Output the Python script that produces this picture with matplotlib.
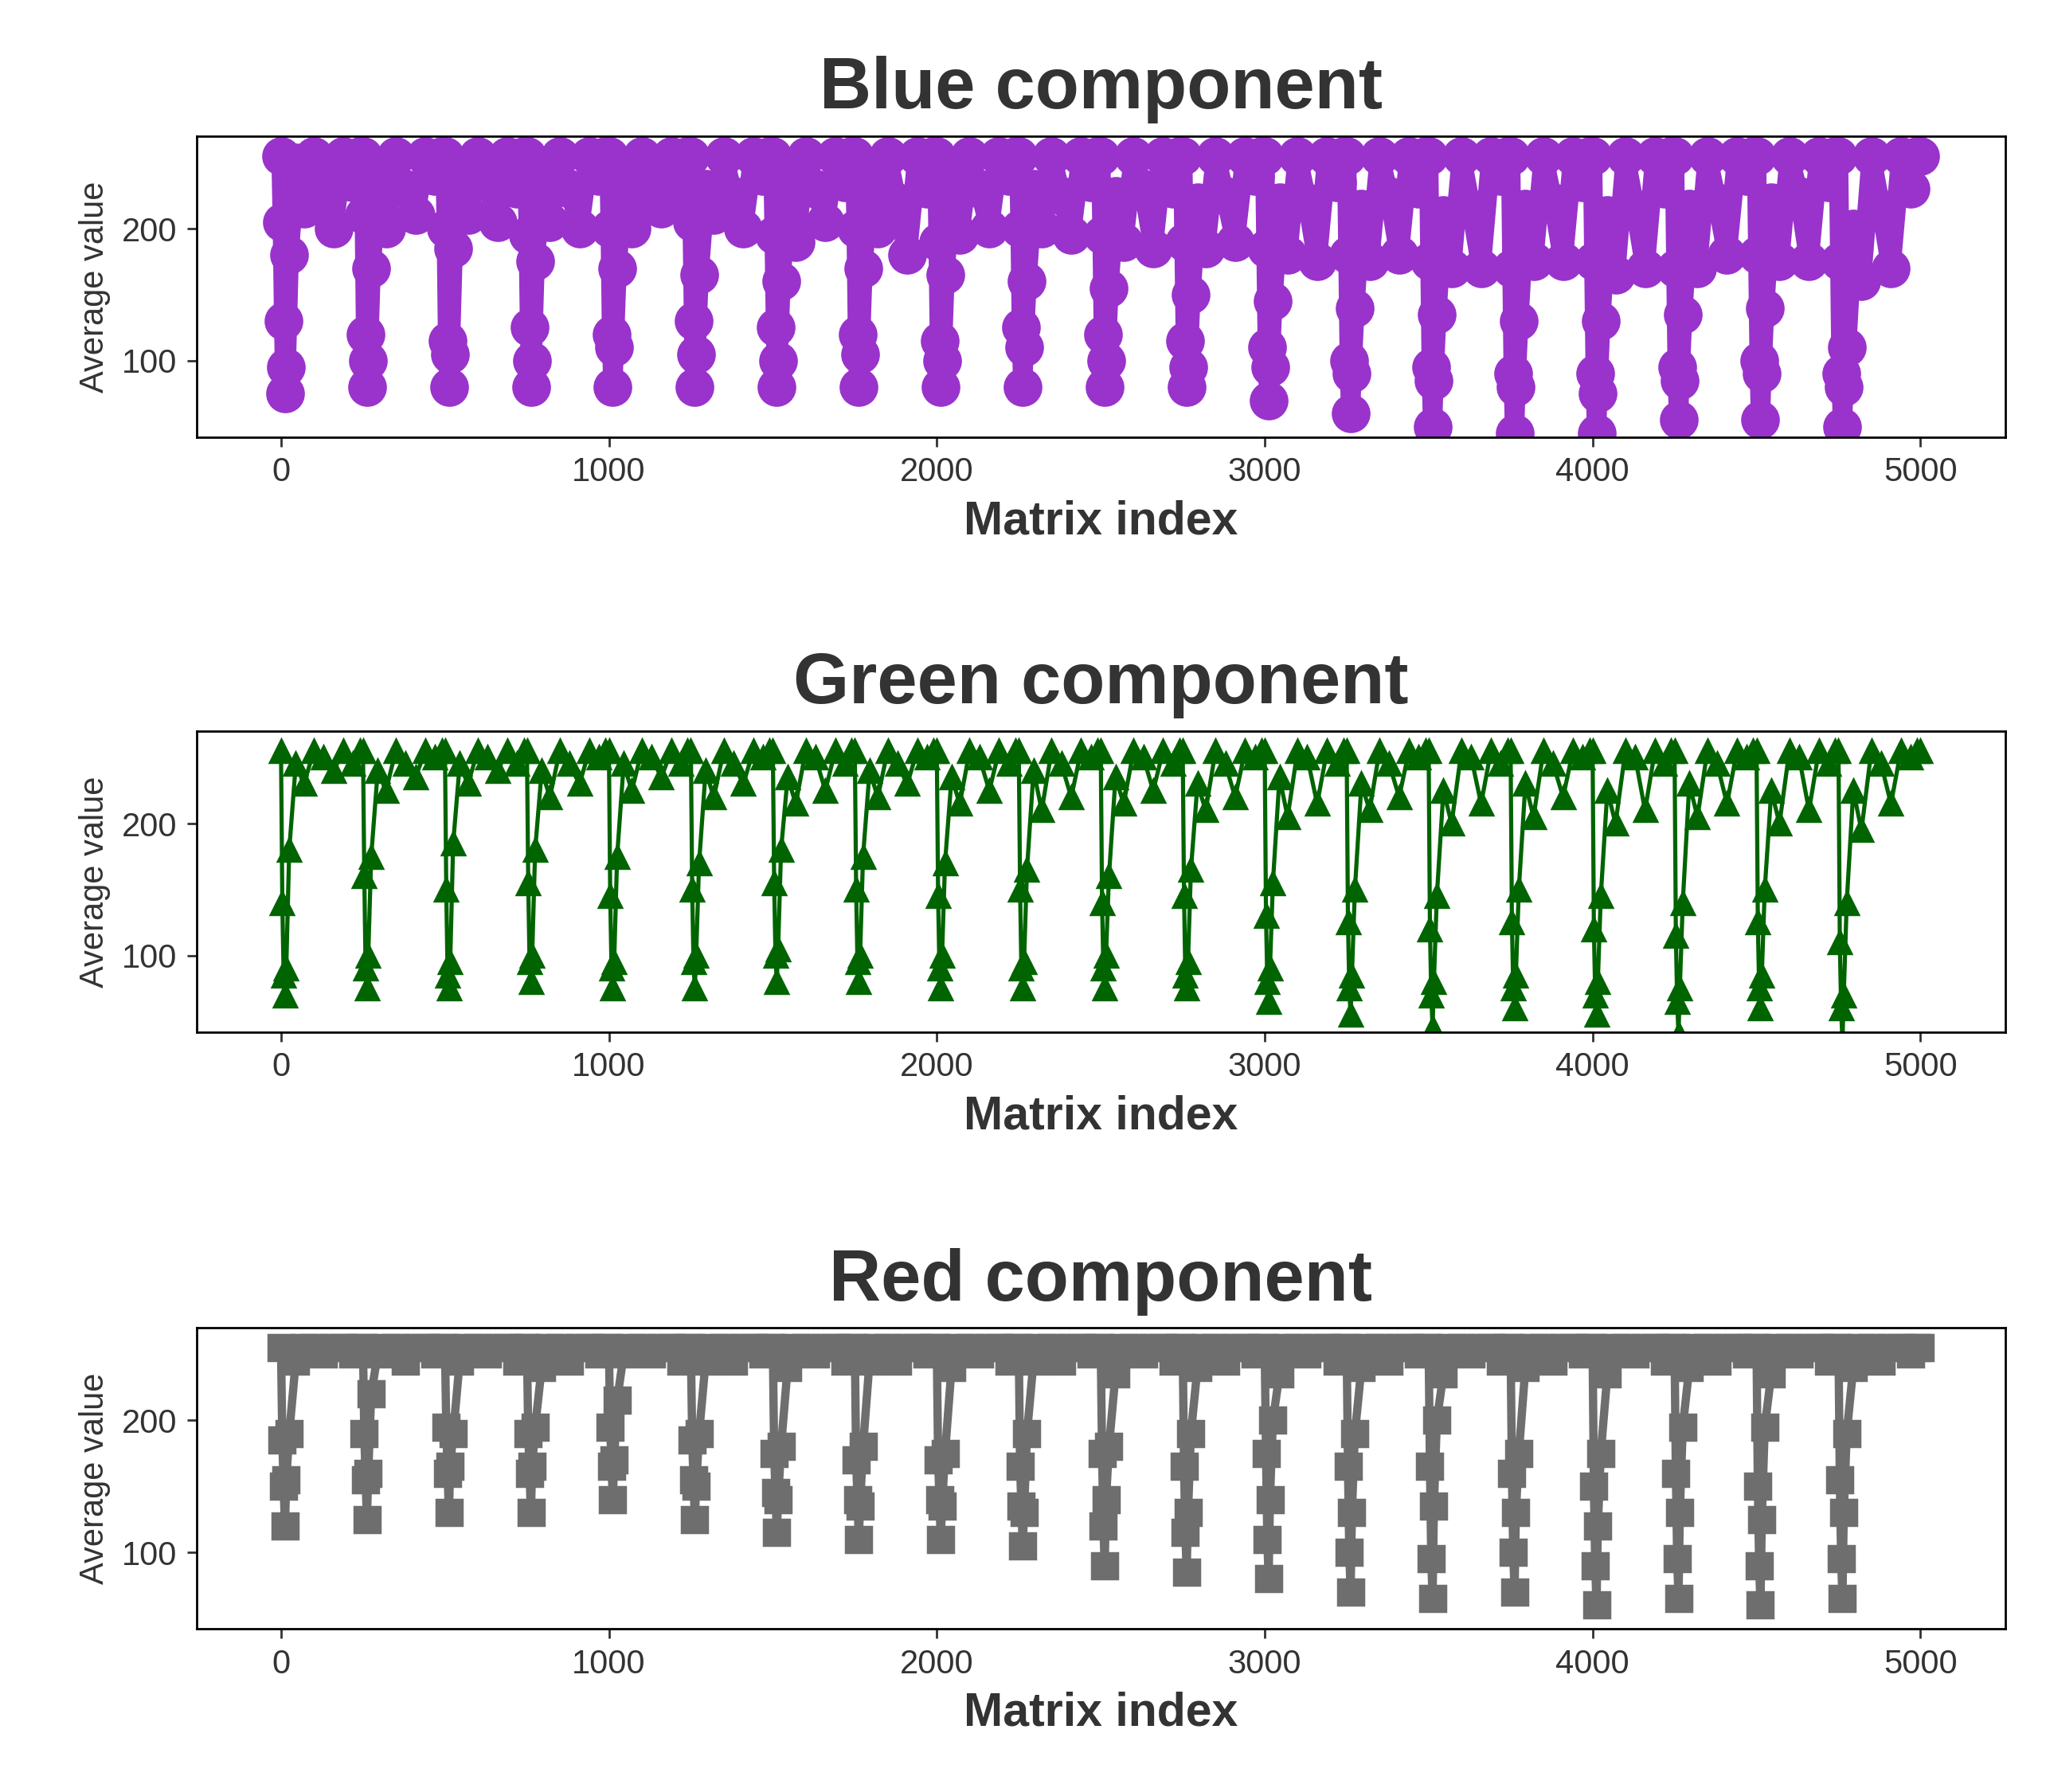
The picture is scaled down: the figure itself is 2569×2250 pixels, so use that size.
import matplotlib
matplotlib.use("Agg")
import matplotlib.pyplot as plt
import numpy as np

plt.rcParams['font.family'] = ['Liberation Sans', 'DejaVu Sans']

# cycle starts (matrix index) and offsets of sampled points inside each cycle
cycle_starts = [0, 250, 500, 750, 1000, 1250, 1500, 1750, 2000, 2250, 2500,
                2750, 3000, 3250, 3500, 3750, 4000, 4250, 4500, 4750, 5000]
offsets = [0, 4, 8, 12, 16, 25, 45, 70, 100, 130, 160, 190, 220, 240]

# values per cycle (one row per cycle start)
blue_vals = [
    [255, 205, 130, 75, 95, 180, 250, 215, 255, 240, 200, 255, 235, 255],
    [255, 210, 120, 80, 100, 170, 240, 200, 255, 230, 210, 255, 240, 255],
    [255, 200, 115, 80, 105, 185, 245, 210, 255, 235, 205, 255, 230, 255],
    [255, 195, 125, 80, 100, 175, 235, 205, 255, 230, 200, 255, 240, 255],
    [255, 200, 120, 80, 110, 170, 240, 200, 255, 235, 215, 255, 230, 255],
    [255, 205, 130, 80, 105, 165, 230, 210, 255, 225, 200, 255, 240, 255],
    [255, 195, 125, 80, 100, 160, 235, 190, 255, 230, 205, 255, 235, 255],
    [255, 200, 120, 80, 105, 170, 240, 200, 255, 220, 180, 255, 230, 255],
    [255, 190, 115, 80, 100, 165, 235, 195, 255, 230, 200, 255, 240, 255],
    [255, 200, 125, 80, 110, 160, 230, 200, 255, 225, 195, 255, 235, 255],
    [255, 195, 120, 80, 100, 155, 225, 190, 255, 230, 185, 255, 230, 255],
    [255, 190, 115, 80, 95, 150, 220, 185, 255, 225, 190, 255, 240, 255],
    [255, 185, 110, 70, 95, 145, 220, 180, 255, 220, 175, 255, 235, 255],
    [255, 180, 100, 60, 90, 140, 215, 175, 255, 225, 180, 255, 230, 255],
    [255, 175, 95, 50, 85, 135, 210, 170, 255, 215, 170, 255, 240, 255],
    [255, 170, 90, 45, 80, 130, 215, 175, 255, 220, 175, 255, 235, 255],
    [255, 175, 90, 45, 75, 130, 210, 165, 255, 215, 170, 255, 230, 255],
    [255, 170, 95, 55, 85, 135, 215, 170, 255, 220, 180, 255, 240, 255],
    [255, 180, 100, 55, 90, 140, 220, 175, 255, 225, 175, 255, 235, 255],
    [255, 175, 90, 50, 80, 110, 200, 160, 255, 215, 170, 255, 230, 255],
    [255, 160, 90, 50, 70, 120, 200, 255, 255, 255, 255, 255, 255, 255],
]
green_vals = [
    [255, 140, 85, 70, 90, 180, 245, 230, 255, 250, 240, 255, 245, 255],
    [255, 160, 90, 75, 100, 175, 240, 225, 255, 245, 235, 255, 250, 255],
    [255, 150, 85, 75, 95, 185, 245, 230, 255, 250, 240, 255, 245, 255],
    [255, 155, 95, 80, 100, 180, 240, 220, 255, 245, 230, 255, 250, 255],
    [255, 145, 90, 75, 95, 175, 245, 225, 255, 250, 235, 255, 245, 255],
    [255, 150, 95, 75, 100, 170, 240, 220, 255, 245, 230, 255, 250, 255],
    [255, 155, 100, 80, 105, 180, 235, 215, 255, 250, 225, 255, 245, 255],
    [255, 150, 95, 80, 100, 175, 240, 220, 255, 245, 230, 255, 250, 255],
    [255, 145, 90, 75, 100, 170, 235, 215, 255, 250, 225, 255, 245, 255],
    [255, 150, 90, 75, 95, 165, 240, 210, 255, 245, 220, 255, 250, 255],
    [255, 140, 90, 75, 100, 160, 235, 215, 255, 250, 225, 255, 245, 255],
    [255, 145, 85, 75, 95, 165, 230, 210, 255, 245, 220, 255, 250, 255],
    [255, 130, 80, 65, 90, 155, 235, 205, 255, 250, 215, 255, 245, 255],
    [255, 125, 75, 55, 85, 150, 230, 210, 255, 245, 220, 255, 250, 255],
    [255, 120, 70, 45, 80, 145, 225, 200, 255, 250, 215, 255, 245, 255],
    [255, 125, 75, 60, 85, 150, 230, 205, 255, 245, 220, 255, 250, 255],
    [255, 120, 70, 55, 80, 145, 225, 200, 255, 250, 210, 255, 245, 255],
    [255, 115, 65, 40, 75, 140, 230, 205, 255, 245, 215, 255, 250, 255],
    [255, 125, 75, 60, 85, 150, 225, 200, 255, 250, 210, 255, 245, 255],
    [255, 110, 60, 35, 70, 140, 225, 195, 255, 245, 215, 255, 250, 255],
    [255, 180, 95, 80, 50, 70, 255, 255, 255, 255, 255, 255, 255, 255],
]
red_vals = [
    [255, 185, 150, 120, 155, 190, 245, 255, 255, 250, 255, 255, 250, 255],
    [255, 190, 155, 125, 160, 220, 250, 255, 255, 245, 255, 255, 250, 255],
    [255, 195, 160, 130, 165, 190, 245, 255, 255, 250, 255, 255, 245, 255],
    [255, 190, 160, 130, 165, 195, 240, 255, 255, 245, 255, 255, 250, 255],
    [255, 195, 165, 140, 170, 215, 250, 255, 255, 250, 255, 255, 245, 255],
    [255, 185, 155, 125, 150, 190, 245, 255, 255, 245, 255, 255, 250, 255],
    [255, 175, 145, 115, 140, 180, 240, 255, 255, 250, 255, 255, 245, 255],
    [255, 170, 140, 110, 135, 180, 245, 255, 255, 245, 255, 255, 250, 255],
    [255, 170, 140, 110, 135, 175, 240, 255, 255, 250, 255, 255, 245, 255],
    [255, 165, 135, 105, 130, 190, 245, 255, 255, 245, 255, 255, 250, 255],
    [255, 175, 120, 90, 140, 180, 235, 255, 255, 250, 255, 255, 245, 255],
    [255, 165, 115, 85, 130, 190, 240, 255, 255, 245, 255, 255, 250, 255],
    [255, 175, 110, 80, 140, 200, 235, 255, 255, 250, 255, 255, 245, 255],
    [255, 165, 100, 70, 130, 190, 240, 255, 255, 245, 255, 255, 250, 255],
    [255, 165, 95, 65, 135, 200, 235, 255, 255, 250, 255, 255, 245, 255],
    [255, 160, 100, 70, 130, 175, 240, 255, 255, 245, 255, 255, 250, 255],
    [255, 150, 90, 60, 120, 175, 235, 255, 255, 250, 255, 255, 245, 255],
    [255, 160, 95, 65, 130, 195, 240, 255, 255, 245, 255, 255, 250, 255],
    [255, 150, 90, 60, 125, 195, 235, 255, 255, 250, 255, 255, 245, 255],
    [255, 155, 95, 65, 130, 190, 240, 255, 255, 245, 255, 255, 250, 255],
    [255, 175, 155, 120, 60, 150, 255, 255, 255, 255, 255, 255, 255, 255],
]


def flatten(vals):
    xs, ys = [], []
    for start, row in zip(cycle_starts, vals):
        for off, v in zip(offsets, row):
            x = start + off
            if x <= 5000:
                xs.append(x)
                ys.append(v)
    return np.array(xs), np.array(ys)


panels = [
    ("Blue component", blue_vals, "#9933CC", "o", 13, 7),
    ("Green component", green_vals, "#006400", "^", 8, 1.5),
    ("Red component", red_vals, "#6E6E6E", "s", 9, 3),
]
positions = [0.756, 0.424, 0.091]

fig = plt.figure(figsize=(2569 / 250, 2250 / 250), dpi=250)
for (title, vals, color, marker, ms, lw), bottom in zip(panels, positions):
    ax = fig.add_axes([0.096, bottom, 0.884, 0.168])
    x, y = flatten(vals)
    ax.plot(x, y, color=color, marker=marker, markersize=ms, linewidth=lw)
    ax.set_xlim(-258, 5258)
    ax.set_ylim(42, 270)
    ax.set_yticks([100, 200])
    ax.set_xticks([0, 1000, 2000, 3000, 4000, 5000])
    ax.tick_params(labelsize=12, colors="#333333")
    ax.set_title(title, fontsize=26, fontweight="bold", color="#333333", pad=10)
    ax.set_xlabel("Matrix index", fontsize=17, fontweight="bold", color="#333333")
    ax.set_ylabel("Average value", fontsize=12, color="#333333")

fig.savefig("out.png", dpi=250)
